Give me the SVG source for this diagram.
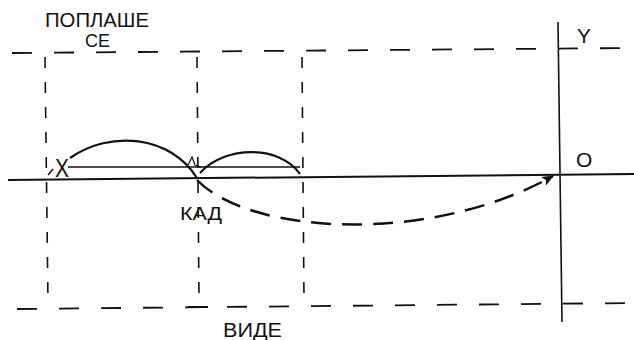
<svg xmlns="http://www.w3.org/2000/svg" width="634" height="340" viewBox="0 0 634 340">
<style>
.lbl{font-family:"Liberation Sans","DejaVu Sans",sans-serif;fill:#111}
.hd{stroke:#111;stroke-width:1.8;fill:none;stroke-dasharray:20 22}
.vd{stroke:#111;stroke-width:1.6;fill:none;stroke-dasharray:11 14}
.solid{stroke:#111;fill:none}
</style>
<defs>
<marker id="arr" viewBox="0 0 12 10" refX="11" refY="5" markerWidth="12" markerHeight="10" markerUnits="userSpaceOnUse" orient="auto">
<path d="M0,0 L12,5 L0,10 L3,5 Z" fill="#111"/>
</marker>
</defs>
<rect width="634" height="340" fill="#fff"/>
<g id="frame">
<line class="hd" x1="12" y1="53" x2="634" y2="48"/>
<line class="hd" x1="17" y1="309" x2="634" y2="303"/>
<line class="vd" x1="45" y1="57" x2="48" y2="303"/>
<line class="vd" x1="197" y1="57" x2="199" y2="300"/>
<line class="solid" stroke-width="2" x1="188" y1="307" x2="208" y2="307"/>
<line class="vd" x1="302" y1="57" x2="304" y2="300"/>
</g>
<g id="axes">
<line class="solid" stroke-width="2" x1="8" y1="180" x2="634" y2="174"/>
<line class="solid" stroke-width="1.6" x1="558" y1="22" x2="562" y2="322"/>
</g>
<g id="node-x">
<text class="lbl" x="55" y="177" font-size="25" textLength="14" lengthAdjust="spacingAndGlyphs">X</text>
<line class="solid" stroke-width="1.6" x1="48" y1="175" x2="53" y2="169"/>
</g>
<g id="node-o"><text class="lbl" x="576" y="167" font-size="21">O</text></g>
<g id="node-y"><text class="lbl" x="577" y="43" font-size="21">Y</text></g>
<g id="label-poplashe">
<text class="lbl" x="45" y="27" font-size="20" textLength="104" lengthAdjust="spacingAndGlyphs">ПОПЛАШЕ</text>
<text class="lbl" x="85" y="47" font-size="19" textLength="25" lengthAdjust="spacingAndGlyphs">СЕ</text>
</g>
<g id="label-kad"><text class="lbl" x="180" y="220" font-size="19" textLength="42" lengthAdjust="spacingAndGlyphs">КАД</text></g>
<g id="label-vide"><text class="lbl" x="223" y="337" font-size="20" textLength="59" lengthAdjust="spacingAndGlyphs">ВИДЕ</text></g>
<g id="connectors">
<line class="solid" stroke-width="1.4" x1="68" y1="167" x2="300" y2="167"/>
<path class="solid" stroke-width="2.2" d="M70,158 C110,130 170,135 197,178"/>
<path class="solid" stroke-width="2.2" d="M200,173 C225,145 280,145 300,174"/>
<path class="solid" stroke-width="1.2" d="M188,165 L192,157 L195,165 L201,167"/>
<path class="solid" stroke-width="2.5" stroke-dasharray="20 11" d="M197,180 C250,235 430,245 553,176" marker-end="url(#arr)"/>
</g>
</svg>
